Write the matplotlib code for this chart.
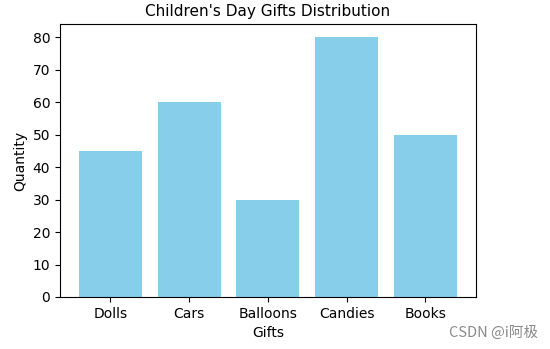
import matplotlib
matplotlib.use('Agg')
from matplotlib import pyplot as plt

gifts = ['Dolls', 'Cars', 'Balloons', 'Candies', 'Books']
quantities = [45, 60, 30, 80, 50]

fig = plt.figure(figsize=(5.5, 3.49), dpi=100)
ax = fig.add_axes([0.109, 0.149, 0.756, 0.782])

ax.bar(gifts, quantities, color='skyblue')
ax.set_title("Children's Day Gifts Distribution", fontsize=11)
ax.set_xlabel('Gifts')
ax.set_ylabel('Quantity')

# watermark
fig.text(0.978, 0.046, 'CSDN @i阿极', ha='right', va='center', fontsize=10.5,
         color='#8a8a8a', family=['Noto Sans CJK SC', 'DejaVu Sans'])

fig.savefig('out.png', dpi=100)
